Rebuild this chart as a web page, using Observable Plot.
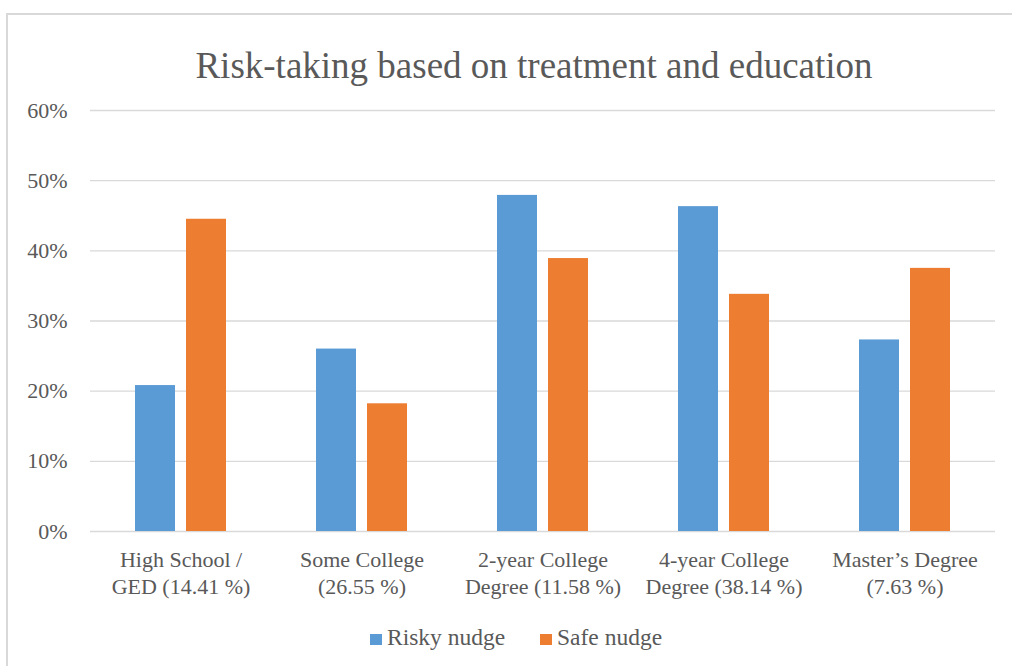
<!DOCTYPE html>
<html>
<head>
<meta charset="utf-8">
<script src="https://cdn.jsdelivr.net/npm/d3@7"></script>
<script src="https://cdn.jsdelivr.net/npm/@observablehq/plot@0.6"></script>
<style>
  html, body { margin: 0; padding: 0; background: #fff; }
  #chart {
    position: relative; width: 1012px; height: 666px; overflow: hidden;
    font-family: "Liberation Serif", "Times New Roman", serif; color: #595959;
  }
  #frame {
    position: absolute; left: 6px; top: 13px; right: -10px; bottom: -10px;
    border-top: 2px solid #d9d9d9; border-left: 2px solid #d9d9d9;
  }
  #title {
    position: absolute; left: 0; top: 47px; width: 1068px; text-align: center;
    font-size: 37px; line-height: 37px; white-space: nowrap;
  }
  #plot { position: absolute; left: 0; top: 0; }
  .legend-item { position: absolute; top: 624px; font-size: 23.5px; line-height: 26px; white-space: nowrap; }
  .legend-item .sw { display: inline-block; width: 12px; height: 11px; margin-right: 5px; vertical-align: 0px; }
</style>
</head>
<body>
<div id="chart">
  <div id="frame"></div>
  <div id="title">Risk-taking based on treatment and education</div>
  <div id="plot"></div>
</div>
<script>
// Education groups, their axis labels (share of respondents) and the two treatments
const categories = ["HS", "Some", "2yr", "4yr", "Masters"];
const categoryLabels = [
  "High School /\nGED (14.41 %)",
  "Some College\n(26.55 %)",
  "2-year College\nDegree (11.58 %)",
  "4-year College\nDegree (38.14 %)",
  "Master’s Degree\n(7.63 %)"
];
const series = ["Risky nudge", "Safe nudge"];
const seriesColors = ["#5b9bd5", "#ed7d31"];

// Share of risky choices (%) per group
const riskyValues = [20.8, 26.0, 47.9, 46.3, 27.3];
const safeValues = [44.5, 18.2, 38.9, 33.8, 37.5];

const yTicks = [0, 10, 20, 30, 40, 50, 60];

const rows = categories.flatMap((c, i) => [
  {category: c, series: series[0], value: riskyValues[i]},
  {category: c, series: series[1], value: safeValues[i]}
]);
const labelOf = new Map(categories.map((c, i) => [c, categoryLabels[i]]));

const chart = Plot.plot({
  width: 1012,
  height: 610,
  marginTop: 110,
  marginBottom: 79,
  marginLeft: 89,
  marginRight: 16,
  style: {fontFamily: "'Liberation Serif', 'Times New Roman', serif", color: "#595959", background: "transparent"},
  fx: {domain: categories, padding: 0, axis: null, label: null},
  x: {domain: series, paddingInner: 0.2128, paddingOuter: 0.8608, axis: null, label: null},
  y: {domain: [0, 60], axis: null, label: null},
  color: {domain: series, range: seriesColors},
  marks: [
    Plot.ruleY(yTicks, {stroke: "#d9d9d9", strokeWidth: 1.4}),
    Plot.barY(rows, {fx: "category", x: "series", y: "value", fill: "series"}),
    Plot.axisY(yTicks, {
      anchor: "left", tickSize: 0, tickPadding: 23, fontSize: 22, fill: "#595959",
      tickFormat: d => d + "%", label: null
    }),
    Plot.axisFx({
      anchor: "bottom", tickSize: 0, tickPadding: 17, fontSize: 22, lineHeight: 1.2,
      fill: "#595959", tickFormat: d => labelOf.get(d), label: null
    })
  ]
});
document.getElementById("plot").appendChild(chart);

// Legend beneath the plot
const legendLeft = [370, 540];
series.forEach((s, i) => {
  const item = document.createElement("div");
  item.className = "legend-item";
  item.style.left = legendLeft[i] + "px";
  const sw = document.createElement("span");
  sw.className = "sw";
  sw.style.background = seriesColors[i];
  item.appendChild(sw);
  item.appendChild(document.createTextNode(s));
  document.getElementById("chart").appendChild(item);
});
</script>
</body>
</html>
